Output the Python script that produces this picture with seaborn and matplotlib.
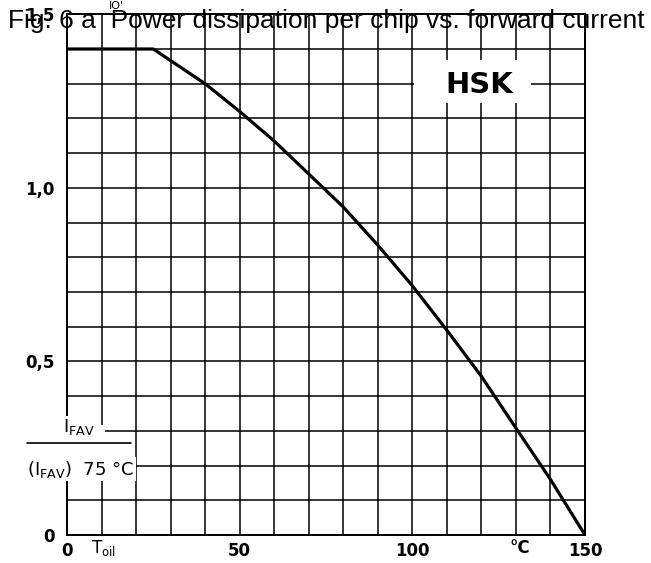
import matplotlib
matplotlib.use("Agg")
import matplotlib.pyplot as plt
import seaborn as sns
import pandas as pd
from matplotlib.patches import Rectangle
from matplotlib.ticker import MultipleLocator

# -----------------------------
# data
# -----------------------------
t_oil = [0, 25, 40, 50, 60, 70, 80, 90, 100, 110, 120, 130, 140, 150]
i_ratio = [1.40, 1.40, 1.30, 1.22, 1.135, 1.04, 0.945, 0.835,
           0.718, 0.59, 0.457, 0.308, 0.16, 0.0]

x_ticks = [0, 50, 100, 150]
x_ticklabels = ["0", "50", "100", "150"]
y_ticks = [0, 0.5, 1.0, 1.5]
y_ticklabels = ["0", "0,5", "1,0", "1,5"]

title = "Fig. 6 a  Power dissipation per chip vs. forward current"

df = pd.DataFrame({"T": t_oil, "I": i_ratio})

sns.set_style("white")
plt.rcParams["font.family"] = ["DejaVu Sans"]
plt.rcParams["text.color"] = "black"
plt.rcParams["xtick.color"] = "black"
plt.rcParams["ytick.color"] = "black"

fig = plt.figure(figsize=(6.51, 5.63), dpi=100)
ax = fig.add_axes([67 / 651, 28 / 563, 518 / 651, 520.7 / 563])

sns.lineplot(data=df, x="T", y="I", ax=ax, color="black", lw=2.3,
             zorder=4, solid_capstyle="butt")

ax.set_xlim(0, 150)
ax.set_ylim(0, 1.5)
ax.xaxis.set_minor_locator(MultipleLocator(10))
ax.yaxis.set_minor_locator(MultipleLocator(0.1))
ax.set_xticks(x_ticks)
ax.set_xticklabels(x_ticklabels)
ax.set_yticks(y_ticks)
ax.set_yticklabels(y_ticklabels)
ax.grid(which="both", color="black", lw=1.1)
ax.set_axisbelow(True)
ax.tick_params(which="both", length=0)
ax.tick_params(axis="x", pad=5, labelsize=12)
ax.tick_params(axis="y", pad=9, labelsize=12)
for lab in ax.get_xticklabels() + ax.get_yticklabels():
    lab.set_fontweight("bold")
for s in ax.spines.values():
    s.set_color("black")
    s.set_linewidth(1.4)
ax.set_xlabel("")
ax.set_ylabel("")

# extra axis annotations
ax.text(10.5, -0.037, r"T$_\mathrm{oil}$", ha="center", va="center",
        fontsize=12, clip_on=False)
ax.text(131, -0.037, "°C", ha="center", va="center", fontsize=12,
        fontweight="bold", clip_on=False)

# HSK logo with white gap in the grid
ax.add_patch(Rectangle((100.5, 1.245), 34, 0.123, facecolor="white",
                       edgecolor="none", zorder=3))
ax.text(119.5, 1.297, "HSK", ha="center", va="center", fontsize=21,
        fontweight="heavy", zorder=5)

# y axis quantity label (fraction) over the grid
ax.add_patch(Rectangle((-1.5, 0.173), 12.5, 0.144, facecolor="white",
                       edgecolor="none", zorder=3, clip_on=False))
ax.text(-1.2, 0.31, r"I$_\mathrm{FAV}$", ha="left", va="center",
        fontsize=13, zorder=5, clip_on=False,
        bbox=dict(facecolor="white", edgecolor="none", pad=1))
ax.plot([-11.6, 18.5], [0.265, 0.265], color="black", lw=1.2,
        clip_on=False, zorder=5)
ax.text(-11.6, 0.19, r"(I$_\mathrm{FAV}$)  75 °C", ha="left", va="center",
        fontsize=13, zorder=5, clip_on=False,
        bbox=dict(facecolor="white", edgecolor="none", pad=1))

# title printed across the top of the chart
fig.text(0.5015, 1 - 21 / 563, title, ha="center", va="center",
         fontsize=19, family=["Liberation Sans", "DejaVu Sans"], zorder=10)
fig.text(116 / 651, 0.999, "IO'", ha="center", va="top", fontsize=8)

fig.savefig("out.png", dpi=100)
